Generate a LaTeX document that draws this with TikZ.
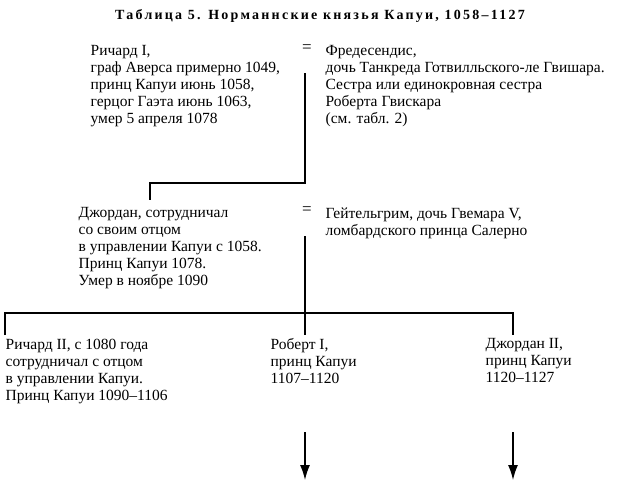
\documentclass[tikz,border=0pt]{standalone}
\usepackage{fontspec}
\setmainfont{Liberation Serif}
\usetikzlibrary{positioning,arrows.meta}
\begin{document}
\begin{tikzpicture}[x=1pt,y=-1pt,
        person/.style = {anchor=north west, align=left, inner sep=0pt,
            font=\fontsize{15.5}{17}\selectfont},
        eq/.style = {anchor=north, inner sep=0pt, font=\fontsize{17}{17}\selectfont},
        line width=1.4pt]
    \useasboundingbox (0,0) rectangle (634,490);

    % Title
    \node[inner sep=0pt, font=\bfseries\fontsize{14}{15}\selectfont\addfontfeatures{LetterSpace=16}] (title) at (320,16)
        {Таблица 5. Норманнские князья Капуи, 1058–1127};

    % Richard I
    \node[person] (richard) at (90,45) {Ричард I,\\граф Аверса примерно 1049,\\принц Капуи июнь 1058,\\герцог Гаэта июнь 1063,\\умер 5 апреля 1078};
    \node[eq] (eqA) at (307,44) {=};
    \node[person] (fred) at (325,45) {Фредесендис,\\дочь Танкреда Готвилльского-ле Гвишара.\\Сестра или единокровная сестра\\Роберта Гвискара\\(см. табл. 2)};

    % Jordan
    \node[person] (jordan) at (78,207) {Джордан, сотрудничал\\со своим отцом\\в управлении Капуи с 1058.\\Принц Капуи 1078.\\Умер в ноябре 1090};
    \node[eq] (eqB) at (307,206) {=};
    \node[person] (geit) at (325,207) {Гейтельгрим, дочь Гвемара V,\\ломбардского принца Салерно};

    % Children
    \node[person] (richard2) at (5,338) {Ричард II, с 1080 года\\сотрудничал с отцом\\в управлении Капуи.\\Принц Капуи 1090–1106};
    \node[person] (robert) at (270,338) {Роберт I,\\принц Капуи\\1107–1120};
    \node[person] (jordan2) at (485,338) {Джордан II,\\принц Капуи\\1120–1127};

    % Lines
    \coordinate (s1) at (305,73);
    \coordinate (k1) at (305,183);
    \coordinate (k2) at (150,183);
    \coordinate (k3) at (150,200);
    \draw (s1) -- (k1) -- (k2) -- (k3);

    \coordinate (s2) at (305,236);
    \coordinate (m) at (305,313);
    \draw (s2) -- (m);
    \draw (5,335) -- (5,313) -- (513,313) -- (513,335);
    \draw (m) -- (305,335);

    % Arrows
    \coordinate (a1) at (305,432);
    \coordinate (b1) at (305,480);
    \coordinate (a2) at (513,432);
    \coordinate (b2) at (513,480);
    \draw[-{Latex[length=15pt,width=10pt]}] (a1) -- (b1);
    \draw[-{Latex[length=15pt,width=10pt]}] (a2) -- (b2);
\end{tikzpicture}
\end{document}
